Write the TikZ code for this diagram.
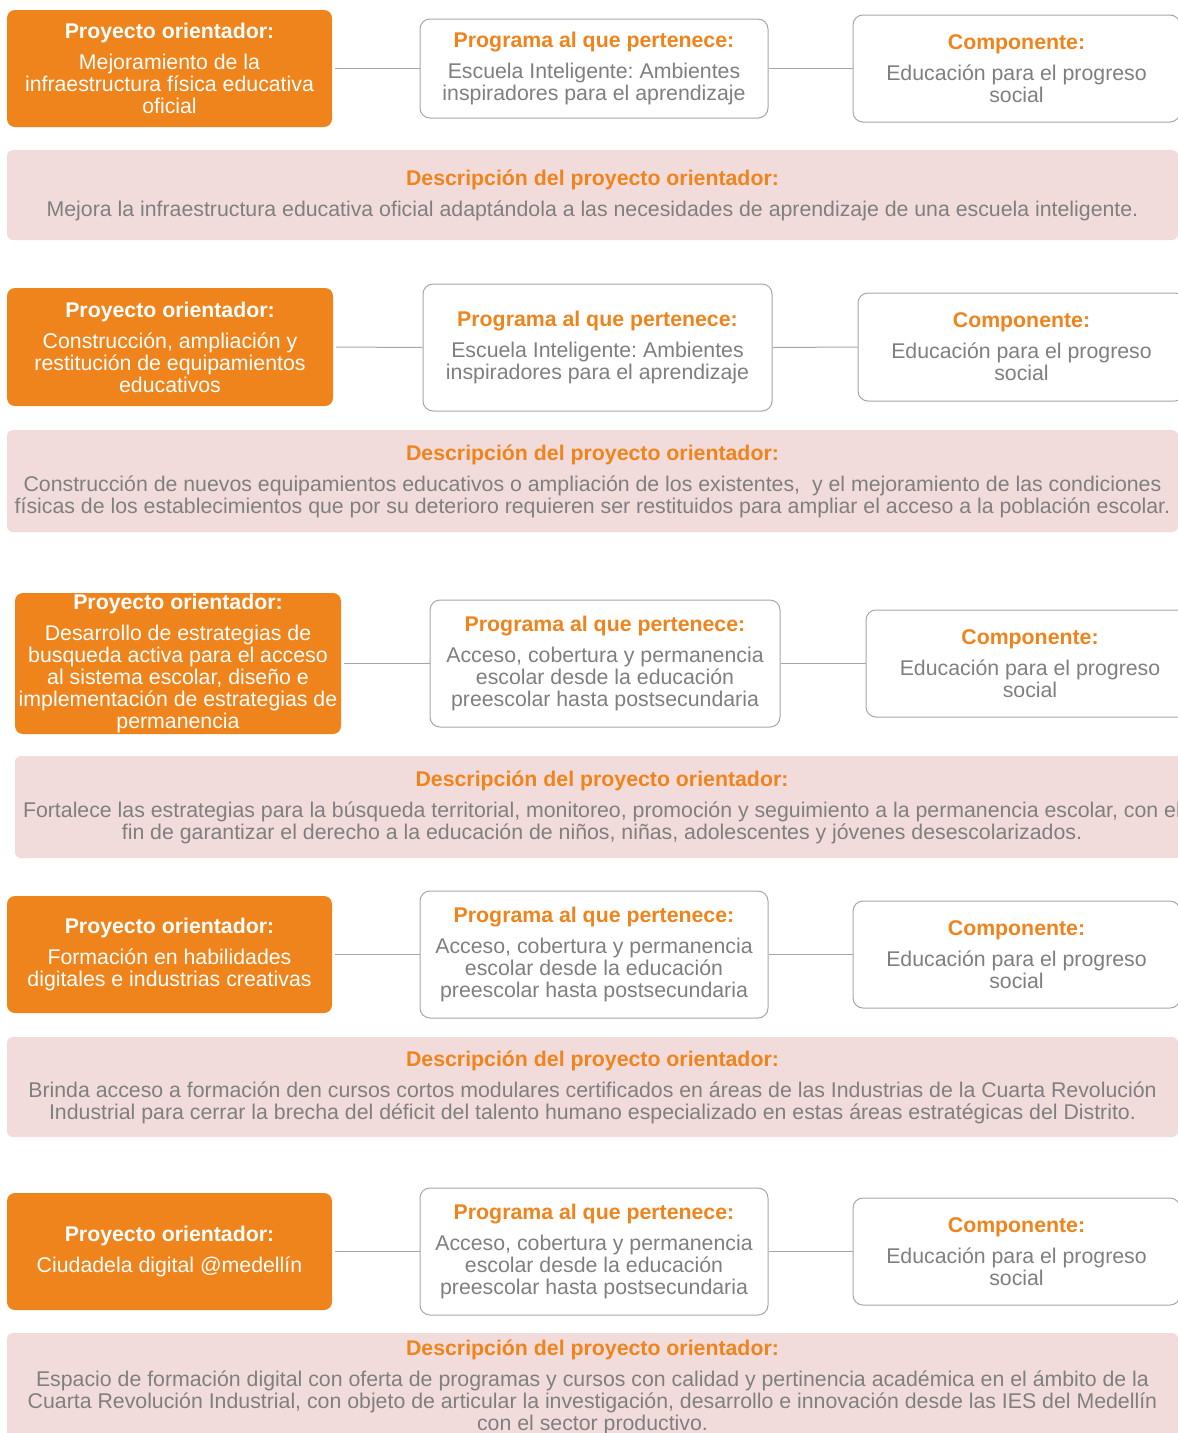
\documentclass[tikz,border=0pt]{standalone}
\usepackage{fontspec}
\setmainfont{Liberation Sans}
\usepackage{tikz}

\definecolor{naranja}{HTML}{F0841C}
\definecolor{rosa}{HTML}{F2DCDB}
\definecolor{gris}{HTML}{7F7F7F}
\definecolor{borde}{HTML}{A6A6A6}

\frenchspacing
\newcommand{\cuerpo}{\fontsize{21.3pt}{22pt}\selectfont}
\newcommand{\titulo}[1]{{\color{naranja}\bfseries #1}}

\begin{document}
\begin{tikzpicture}[
  x=1pt, y=-1pt,
  proyecto/.style={rectangle, rounded corners=8pt, fill=naranja, text=white, minimum width=325pt, minimum height=117pt, inner sep=0pt, align=center, font=\cuerpo},
  programa/.style={rectangle, rounded corners=10pt, draw=borde, line width=1pt, fill=white, text=gris, minimum width=348pt, minimum height=127pt, inner sep=0pt, align=center, font=\cuerpo},
  componente/.style={programa, minimum width=327pt, minimum height=107pt},
  descripcion/.style={rectangle, rounded corners=6pt, fill=rosa, text=gris, minimum width=1171pt, inner sep=0pt, align=center, font=\cuerpo},
  enlace/.style={draw=borde, line width=1pt},
  enlacepo/.style={enlace, shorten <=3pt},
]
\useasboundingbox (0,0) rectangle (1178,1433);

% Bloque 1
\node[proyecto] (po1) at (169.5,68.5) {\textbf{Proyecto orientador:}\\[9pt] Mejoramiento de la\\ infraestructura física educativa\\ oficial};
\node[programa, minimum height=99pt] (pr1) at (594,68.5) {\titulo{Programa al que pertenece:}\\[9pt] Escuela Inteligente: Ambientes\\ inspiradores para el aprendizaje};
\node[componente] (co1) at (1016.5,68.5) {\titulo{Componente:}\\[9pt] Educación para el progreso\\ social};
\node[descripcion, minimum height=90pt] (de1) at (592.5,195) {\titulo{Descripción del proyecto orientador:}\\[9pt] Mejora la infraestructura educativa oficial adaptándola a las necesidades de aprendizaje de una escuela inteligente.};

% Bloque 2
\node[proyecto, minimum width=326pt, minimum height=118pt] (po2) at (170,347) {\textbf{Proyecto orientador:}\\[9pt] Construcción, ampliación y\\ restitución de equipamientos\\ educativos};
\node[programa, minimum width=349pt] (pr2) at (597.5,347.5) {\titulo{Programa al que pertenece:}\\[9pt] Escuela Inteligente: Ambientes\\ inspiradores para el aprendizaje};
\node[componente, minimum height=108pt] (co2) at (1021.5,347) {\titulo{Componente:}\\[9pt] Educación para el progreso\\ social};
\node[descripcion, minimum height=102pt] (de2) at (592.5,481) {\titulo{Descripción del proyecto orientador:}\\[9pt] Construcción de nuevos equipamientos educativos o ampliación de los existentes, \ y el mejoramiento de las condiciones\\ físicas de los establecimientos que por su deterioro requieren ser restituidos para ampliar el acceso a la población escolar.};

% Bloque 3
\node[proyecto, minimum width=326pt, minimum height=141pt] (po3) at (178,663.5) {\textbf{Proyecto orientador:}\\[9pt] Desarrollo de estrategias de\\ busqueda activa para el acceso\\ al sistema escolar, diseño e\\ implementación de estrategias de\\ permanencia};
\node[programa, minimum width=350pt] (pr3) at (605,663.5) {\titulo{Programa al que pertenece:}\\[9pt] Acceso, cobertura y permanencia\\ escolar desde la educación\\ preescolar hasta postsecundaria};
\node[componente, minimum width=328pt] (co3) at (1030,663.5) {\titulo{Componente:}\\[9pt] Educación para el progreso\\ social};
\node[descripcion, minimum width=1174pt, minimum height=102pt] (de3) at (602,807) {\titulo{Descripción del proyecto orientador:}\\[9pt] Fortalece las estrategias para la búsqueda territorial, monitoreo, promoción y seguimiento a la permanencia escolar, con el\\ fin de garantizar el derecho a la educación de niños, niñas, adolescentes y jóvenes desescolarizados.};

% Bloque 4
\node[proyecto] (po4) at (169.5,954.5) {\textbf{Proyecto orientador:}\\[9pt] Formación en habilidades\\ digitales e industrias creativas};
\node[programa] (pr4) at (594,954.5) {\titulo{Programa al que pertenece:}\\[9pt] Acceso, cobertura y permanencia\\ escolar desde la educación\\ preescolar hasta postsecundaria};
\node[componente] (co4) at (1016.5,954.5) {\titulo{Componente:}\\[9pt] Educación para el progreso\\ social};
\node[descripcion, minimum height=100pt] (de4) at (592.5,1087) {\titulo{Descripción del proyecto orientador:}\\[9pt] Brinda acceso a formación den cursos cortos modulares certificados en áreas de las Industrias de la Cuarta Revolución\\ Industrial para cerrar la brecha del déficit del talento humano especializado en estas áreas estratégicas del Distrito.};

% Bloque 5
\node[proyecto] (po5) at (169.5,1251.5) {\textbf{Proyecto orientador:}\\[9pt] Ciudadela digital @medellín};
\node[programa] (pr5) at (594,1251.5) {\titulo{Programa al que pertenece:}\\[9pt] Acceso, cobertura y permanencia\\ escolar desde la educación\\ preescolar hasta postsecundaria};
\node[componente] (co5) at (1016.5,1251.5) {\titulo{Componente:}\\[9pt] Educación para el progreso\\ social};
\node[descripcion, minimum height=108pt] (de5) at (592.5,1387) {\titulo{Descripción del proyecto orientador:}\\[9pt] Espacio de formación digital con oferta de programas y cursos con calidad y pertinencia académica en el ámbito de la\\ Cuarta Revolución Industrial, con objeto de articular la investigación, desarrollo e innovación desde las IES del Medellín\\ con el sector productivo.};

% Enlaces
\draw[enlacepo] (po1.east) -- (pr1.west);
\draw[enlace] (pr1.east) -- (co1.west);
\draw[enlacepo] (po2.east) -- (pr2.west);
\draw[enlace] (pr2.east) -- (co2.west);
\draw[enlacepo] (po3.east) -- (pr3.west);
\draw[enlace] (pr3.east) -- (co3.west);
\draw[enlacepo] (po4.east) -- (pr4.west);
\draw[enlace] (pr4.east) -- (co4.west);
\draw[enlacepo] (po5.east) -- (pr5.west);
\draw[enlace] (pr5.east) -- (co5.west);

\end{tikzpicture}
\end{document}
